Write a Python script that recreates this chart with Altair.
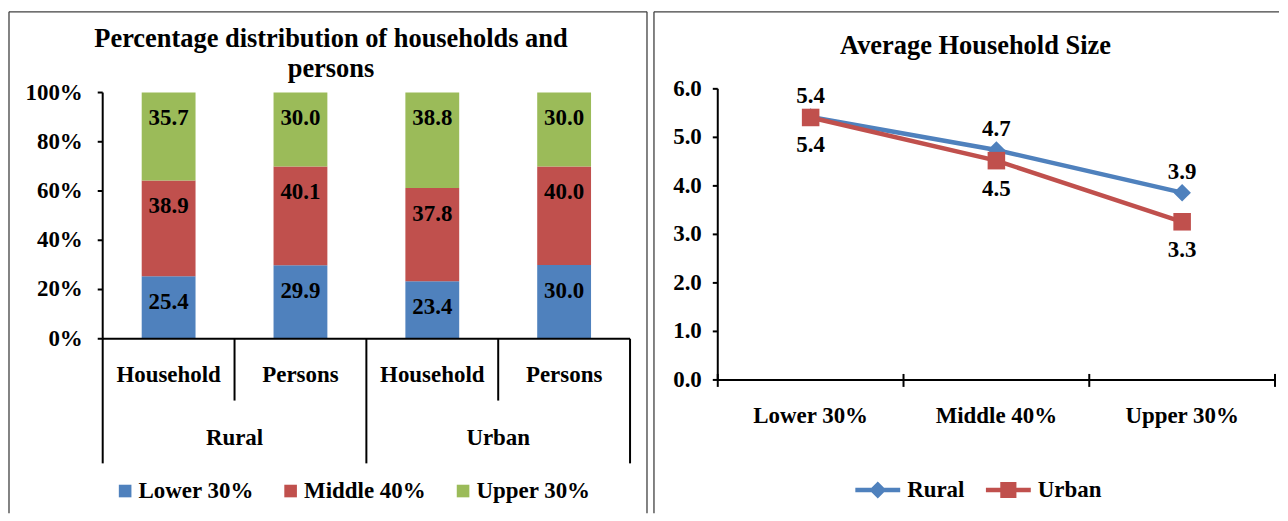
import altair as alt
import pandas as pd

# ---------------- data ----------------
areas = ["Rural", "Rural", "Urban", "Urban"]
units = ["Household", "Persons", "Household", "Persons"]
groups = ["Lower 30%", "Middle 40%", "Upper 30%"]
lower_share = [25.4, 29.9, 23.4, 30.0]
middle_share = [38.9, 40.1, 37.8, 40.0]
upper_share = [35.7, 30.0, 38.8, 30.0]
pct_ticks = [0, 20, 40, 60, 80, 100]
pct_labels = ["0%", "20%", "40%", "60%", "80%", "100%"]

size_groups = ["Lower 30%", "Middle 40%", "Upper 30%"]
series = ["Rural", "Urban"]
rural_size = [5.42, 4.74, 3.86]
urban_size = [5.41, 4.52, 3.26]
size_ticks = [0, 1, 2, 3, 4, 5, 6]

# ---------------- style / layout (pixels inside each panel) ----------------
FONT = "Liberation Serif"
FS = 23
BLUE, RED, GREEN = "#4F81BD", "#C0504D", "#9BBB59"
FRAME = "#404040"
H = 503
W1, W2 = 640, 627
# left panel plot region
L_X0, L_X4 = 94, 623          # pixel of category boundary 0 and 4
L_Y0, L_Y100 = 328, 81         # pixel of 0% and 100%
# right panel plot region
R_X0, R_X3 = 64, 623
R_Y0, R_Y6 = 369.3, 77.3


def domain_for(v0, p0, v1, p1, total):
    k = (p1 - p0) / (v1 - v0)
    a = v0 + (0 - p0) / k
    b = v0 + (total - p0) / k
    return sorted([a, b])


def txt(**kw):
    base = dict(font=FONT, fontWeight="bold", color="black")
    base.update(kw)
    return base


frame_df = pd.DataFrame({"k": [0]})


def vrule(x, y1, y2, color="black", sw=2):
    return alt.Chart(frame_df).mark_rule(color=color, strokeWidth=sw).encode(
        x=alt.value(x), y=alt.value(y1), y2=alt.value(y2))


def hrule(x1, x2, y, color="black", sw=2):
    return alt.Chart(frame_df).mark_rule(color=color, strokeWidth=sw).encode(
        x=alt.value(x1), x2=alt.value(x2), y=alt.value(y))


def title_line(text, x, y):
    return alt.Chart(frame_df).mark_text(
        **txt(fontSize=26.5, align="center", baseline="alphabetic", text=text)).encode(
        x=alt.value(x), y=alt.value(y))


# ---------------- left panel ----------------
xs1 = alt.Scale(domain=domain_for(0, L_X0, 4, L_X4, W1), nice=False, zero=False, padding=0)
ys1 = alt.Scale(domain=domain_for(0, L_Y0, 100, L_Y100, H), nice=False, zero=False, padding=0)

rows = []
for i in range(len(units)):
    start = 0.0
    for g, vals in zip(groups, [lower_share, middle_share, upper_share]):
        v = vals[i]
        rows.append(dict(pos=i + 0.5, area=areas[i], unit=units[i], group=g,
                         value=v, start=start, end=start + v))
        start += v
bar_df = pd.DataFrame(rows)
unit_df = pd.DataFrame({"pos": [i + 0.5 for i in range(len(units))],
                        "unit": units, "area": areas})
bound_df = pd.DataFrame({"b": [0, 1, 2, 3, 4],
                         "level": ["outer", "inner", "outer", "inner", "outer"]})
ytick_df = pd.DataFrame({"v": pct_ticks, "lab": pct_labels})

leg1 = alt.Legend(orient="none", legendX=105, legendY=469, direction="horizontal",
                  title=None, symbolType="square", symbolSize=160, symbolStrokeWidth=0,
                  labelFont=FONT, labelFontSize=FS, labelFontWeight="bold",
                  labelColor="black", labelOffset=2, columnPadding=25, padding=0)

bars = alt.Chart(bar_df).mark_bar(size=54, orient="vertical").encode(
    x=alt.X("pos:Q", scale=xs1, axis=None),
    y=alt.Y("start:Q", scale=ys1, axis=None, stack=None),
    y2="end:Q",
    color=alt.Color("group:N", scale=alt.Scale(domain=groups, range=[BLUE, RED, GREEN]),
                    legend=leg1),
)
bar_labels = alt.Chart(bar_df).mark_text(**txt(fontSize=FS, baseline="middle", dy=26)).encode(
    x=alt.X("pos:Q", scale=xs1, axis=None),
    y=alt.Y("end:Q", scale=ys1, axis=None),
    text=alt.Text("value:Q", format=".1f"),
)
yticks1 = alt.Chart(ytick_df).mark_rule(color="black", strokeWidth=2).encode(
    x=alt.value(L_X0 - 5), x2=alt.value(L_X0), y=alt.Y("v:Q", scale=ys1, axis=None))
ylabels1 = alt.Chart(ytick_df).mark_text(**txt(fontSize=FS, align="right", baseline="middle")).encode(
    x=alt.value(L_X0 - 20), y=alt.Y("v:Q", scale=ys1, axis=None), text="lab:N")
sep_short = alt.Chart(bound_df).transform_filter("datum.level == 'inner'").mark_rule(
    color="black", strokeWidth=2).encode(
    x=alt.X("b:Q", scale=xs1, axis=None), y=alt.value(L_Y0), y2=alt.value(390))
sep_long = alt.Chart(bound_df).transform_filter("datum.level == 'outer'").mark_rule(
    color="black", strokeWidth=2).encode(
    x=alt.X("b:Q", scale=xs1, axis=None), y=alt.value(L_Y0), y2=alt.value(453))
unit_labels = alt.Chart(unit_df).mark_text(**txt(fontSize=FS, baseline="middle")).encode(
    x=alt.X("pos:Q", scale=xs1, axis=None), y=alt.value(L_Y0 + 36), text="unit:N")
area_labels = alt.Chart(unit_df).transform_aggregate(
    center="mean(pos)", groupby=["area"]).mark_text(**txt(fontSize=FS, baseline="middle")).encode(
    x=alt.X("center:Q", scale=xs1, axis=None), y=alt.value(L_Y0 + 100), text="area:N")

left = alt.layer(
    vrule(0, 0, H, FRAME, 1.3), hrule(0, W1, 0, FRAME, 1.3), vrule(W1, 0, H, FRAME, 1.3),
    title_line("Percentage distribution of households and", W1 / 2 + 3, 35),
    title_line("persons", W1 / 2 + 3, 65),
    bars, bar_labels,
    vrule(L_X0, L_Y100, L_Y0), yticks1, ylabels1,
    hrule(L_X0, L_X4, L_Y0), sep_short, sep_long,
    unit_labels, area_labels,
).properties(width=W1, height=H)

# ---------------- right panel ----------------
xs2 = alt.Scale(domain=domain_for(0, R_X0, 3, R_X3, W2), nice=False, zero=False, padding=0)
ys2 = alt.Scale(domain=domain_for(0, R_Y0, 6, R_Y6, H), nice=False, zero=False, padding=0)

srows = []
for name, vals in zip(series, [rural_size, urban_size]):
    for i, g in enumerate(size_groups):
        srows.append(dict(series=name, group=g, pos=i + 0.5, value=vals[i]))
size_df = pd.DataFrame(srows)
cat_df = pd.DataFrame({"pos": [i + 0.5 for i in range(len(size_groups))], "group": size_groups})
bound2_df = pd.DataFrame({"b": [0, 1, 2, 3]})
ytick2_df = pd.DataFrame({"v": size_ticks})

# legend glyphs: a line segment with the series marker on it
diamond_path = "M-1,-0.1H1V0.1H-1Z M0,-0.38L0.38,0L0,0.38L-0.38,0Z"
square_path = "M-1,-0.1H1V0.1H-1Z M-0.36,-0.36H0.36V0.36H-0.36Z"
leg2 = alt.Legend(
    orient="none", legendX=202, legendY=457, direction="horizontal", title=None,
    symbolSize=2025, symbolOpacity=1, symbolStrokeWidth=0,
    labelFont=FONT, labelFontSize=FS, labelFontWeight="bold",
    labelColor="black", labelOffset=7, columnPadding=21, padding=0,
)
series_colors = {"Rural": BLUE, "Urban": RED}
series_shapes = {"Rural": "diamond", "Urban": "square"}


def series_layers(name):
    d = alt.Chart(size_df).transform_filter(alt.datum.series == name)
    ln = d.mark_line(strokeWidth=4.5, color=series_colors[name]).encode(
        x=alt.X("pos:Q", scale=xs2, axis=None),
        y=alt.Y("value:Q", scale=ys2, axis=None))
    pt = d.mark_point(filled=True, size=310, opacity=1, strokeWidth=0,
                      shape=series_shapes[name], color=series_colors[name]).encode(
        x=alt.X("pos:Q", scale=xs2, axis=None),
        y=alt.Y("value:Q", scale=ys2, axis=None))
    return ln, pt


rural_line, rural_pts = series_layers("Rural")
urban_line, urban_pts = series_layers("Urban")

legend_layer = alt.Chart(size_df).mark_point(filled=True, size=1, opacity=0).encode(
    x=alt.X("pos:Q", scale=xs2, axis=None),
    y=alt.Y("value:Q", scale=ys2, axis=None),
    color=alt.Color("series:N", scale=alt.Scale(domain=series, range=[BLUE, RED]), legend=leg2),
    shape=alt.Shape("series:N", scale=alt.Scale(domain=series, range=[diamond_path, square_path]),
                    legend=leg2),
)

rural_labels = alt.Chart(size_df).transform_filter("datum.series == 'Rural'").mark_text(
    **txt(fontSize=FS, baseline="middle", dy=-21)).encode(
    x=alt.X("pos:Q", scale=xs2, axis=None), y=alt.Y("value:Q", scale=ys2, axis=None),
    text=alt.Text("value:Q", format=".1f"))
urban_labels = alt.Chart(size_df).transform_filter("datum.series == 'Urban'").mark_text(
    **txt(fontSize=FS, baseline="middle", dy=28)).encode(
    x=alt.X("pos:Q", scale=xs2, axis=None), y=alt.Y("value:Q", scale=ys2, axis=None),
    text=alt.Text("value:Q", format=".1f"))
yticks2 = alt.Chart(ytick2_df).mark_rule(color="black", strokeWidth=2).encode(
    x=alt.value(R_X0 - 5), x2=alt.value(R_X0), y=alt.Y("v:Q", scale=ys2, axis=None))
ylabels2 = alt.Chart(ytick2_df).mark_text(**txt(fontSize=FS, align="right", baseline="middle")).encode(
    x=alt.value(R_X0 - 16), y=alt.Y("v:Q", scale=ys2, axis=None), text=alt.Text("v:Q", format=".1f"))
xticks2 = alt.Chart(bound2_df).mark_rule(color="black", strokeWidth=2).encode(
    x=alt.X("b:Q", scale=xs2, axis=None), y=alt.value(R_Y0 - 6), y2=alt.value(R_Y0 + 7))
cat_labels = alt.Chart(cat_df).mark_text(**txt(fontSize=FS, baseline="middle")).encode(
    x=alt.X("pos:Q", scale=xs2, axis=None), y=alt.value(R_Y0 + 36), text="group:N")

right = alt.layer(
    vrule(0, 0, H, FRAME, 1.3), hrule(0, W2, 0, FRAME, 1.3),
    title_line("Average Household Size", W2 / 2 + 9, 42),
    vrule(R_X0, R_Y6, R_Y0), yticks2, ylabels2,
    hrule(R_X0, R_X3, R_Y0), xticks2, cat_labels,
    legend_layer, rural_line, urban_line, rural_pts, urban_pts, rural_labels, urban_labels,
).properties(width=W2, height=H)

chart = alt.hconcat(left, right, spacing=5).resolve_scale(
    color="independent", shape="independent"
).resolve_legend(
    color="independent", shape="independent"
).properties(
    padding={"left": 0, "top": 2, "right": 0, "bottom": 0},
    background="white",
).configure_view(stroke=None)

chart.save("out.html", embed_options={"renderer": "svg", "actions": False})
